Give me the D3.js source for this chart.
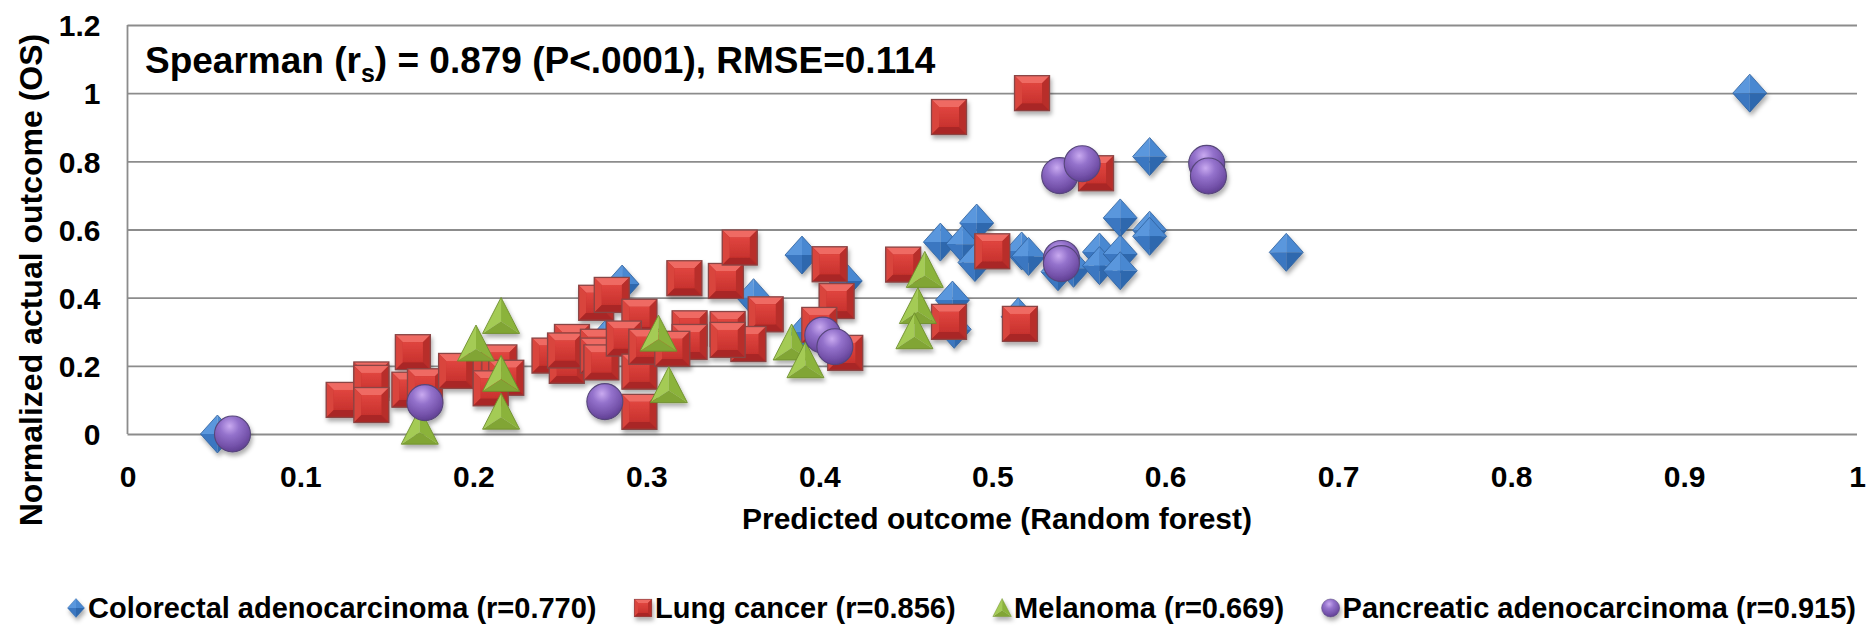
<!DOCTYPE html>
<html><head><meta charset="utf-8">
<script src="https://cdn.jsdelivr.net/npm/d3@7"></script>
<style>
body{margin:0;background:#fff}
svg text{font-family:"Liberation Sans",Arial,Helvetica,sans-serif;font-weight:bold;fill:#000}
</style>
</head><body>
<svg id="chart" width="1868" height="629"></svg>
<script>
// ---------------- data ----------------
const seriesNames = [
  "Colorectal adenocarcinoma (r=0.770)",
  "Lung cancer (r=0.856)",
  "Melanoma (r=0.669)",
  "Pancreatic adenocarcinoma (r=0.915)"
];
const seriesShapes = ["diamond","square","triangle","circle"];
const xTickValues = [0,0.1,0.2,0.3,0.4,0.5,0.6,0.7,0.8,0.9,1];
const xTickLabels = ["0","0.1","0.2","0.3","0.4","0.5","0.6","0.7","0.8","0.9","1"];
const yTickValues = [0,0.2,0.4,0.6,0.8,1.0,1.2];
const yTickLabels = ["0","0.2","0.4","0.6","0.8","1","1.2"];
const xTitle = "Predicted outcome (Random forest)";
const yTitle = "Normalized actual outcome (OS)";

// [predicted, actual]
const colorectal = [
  [0.052,0.0],[0.276,0.276],[0.286,0.44],[0.362,0.40],[0.39,0.525],[0.392,0.30],
  [0.415,0.449],[0.470,0.563],[0.477,0.393],[0.478,0.307],[0.483,0.557],[0.491,0.619],
  [0.49,0.503],[0.515,0.344],[0.517,0.537],[0.521,0.521],[0.538,0.476],[0.547,0.486],
  [0.562,0.534],[0.562,0.494],[0.574,0.634],[0.574,0.528],[0.574,0.479],[0.591,0.814],
  [0.591,0.598],[0.591,0.58],[0.670,0.533],[0.938,1.0]
];
const lung = [
  [0.125,0.10],[0.141,0.16],[0.141,0.15],[0.141,0.085],[0.165,0.24],[0.163,0.13],
  [0.172,0.14],[0.19,0.185],[0.210,0.188],[0.215,0.21],[0.219,0.165],[0.210,0.134],
  [0.244,0.23],[0.254,0.20],[0.257,0.27],[0.253,0.245],[0.271,0.385],[0.280,0.408],
  [0.272,0.256],[0.272,0.23],[0.274,0.21],[0.296,0.344],[0.287,0.28],[0.296,0.183],
  [0.296,0.065],[0.30,0.256],[0.322,0.457],[0.346,0.449],[0.325,0.31],[0.325,0.27],
  [0.315,0.25],[0.347,0.308],[0.354,0.547],[0.369,0.351],[0.359,0.264],[0.347,0.276],
  [0.406,0.498],[0.41,0.39],[0.40,0.32],[0.415,0.238],[0.4485,0.497],[0.475,0.329],
  [0.475,0.93],[0.523,1.0],[0.50,0.536],[0.56,0.765],[0.516,0.323]
];
const melanoma = [
  [0.169,0.02],[0.2015,0.264],[0.216,0.345],[0.216,0.175],[0.216,0.064],[0.307,0.293],
  [0.313,0.142],[0.384,0.267],[0.392,0.215],[0.461,0.48],[0.457,0.374],[0.455,0.30]
];
const pancreatic = [
  [0.0607,0.0],[0.172,0.092],[0.276,0.095],[0.402,0.29],[0.409,0.256],[0.539,0.758],
  [0.552,0.793],[0.54,0.515],[0.54,0.50],[0.624,0.794],[0.625,0.757]
];
const seriesData = [colorectal, lung, melanoma, pancreatic];

// ---------------- layout ----------------
const svg = d3.select("#chart");
const plot = {left:127.5, right:1857, top:25, bottom:434};
const x = d3.scaleLinear().domain([0,1]).range([plot.left, plot.right]);
const y = d3.scaleLinear().domain([0,1.2]).range([plot.bottom, plot.top]);
const gridColor = "#8c8c8c";

// ---------------- defs: markers ----------------
const defs = svg.append("defs");
const f = defs.append("filter").attr("id","shadow").attr("x","-50%").attr("y","-50%").attr("width","200%").attr("height","200%");
f.append("feDropShadow").attr("dx",1.5).attr("dy",3.5).attr("stdDeviation",2.2)
  .attr("flood-color","#000").attr("flood-opacity",0.32);

const rg = defs.append("radialGradient").attr("id","purpleGrad")
  .attr("cx","42%").attr("cy","28%").attr("r","75%");
rg.append("stop").attr("offset","0%").attr("stop-color","#c9aaf0");
rg.append("stop").attr("offset","35%").attr("stop-color","#9472cc");
rg.append("stop").attr("offset","75%").attr("stop-color","#7452aa");
rg.append("stop").attr("offset","100%").attr("stop-color","#5c3c8e");

const sqg = defs.append("linearGradient").attr("id","redFace").attr("x1",0).attr("y1",0).attr("x2",0).attr("y2",1);
sqg.append("stop").attr("offset","0%").attr("stop-color","#e0453f");
sqg.append("stop").attr("offset","100%").attr("stop-color","#c8322e");

function makeSymbol(id, s) {
  const g = defs.append("g").attr("id", id);
  if (id === "sym-diamond") {
    const w = 17*s, h = 19*s;
    g.append("polygon").attr("points",`0,${-h} ${-w},0 0,0`).attr("fill","#5a97dd");
    g.append("polygon").attr("points",`0,${-h} ${w},0 0,0`).attr("fill","#4a88d1");
    g.append("polygon").attr("points",`${-w},0 0,${h} 0,0`).attr("fill","#3a77c1");
    g.append("polygon").attr("points",`${w},0 0,${h} 0,0`).attr("fill","#2e68ae");
    g.append("polygon").attr("points",`0,${-h} ${w},0 0,${h} ${-w},0`)
      .attr("fill","none").attr("stroke","#2d5f9c").attr("stroke-width",0.8);
  } else if (id === "sym-square") {
    const a = 17.5*s, b = 10*s;
    g.append("rect").attr("x",-a).attr("y",-a).attr("width",2*a).attr("height",2*a).attr("fill","#c4312d");
    g.append("polygon").attr("points",`${-a},${-a} ${a},${-a} ${b},${-b} ${-b},${-b}`).attr("fill","#ef6b64");
    g.append("polygon").attr("points",`${-a},${-a} ${-b},${-b} ${-b},${b} ${-a},${a}`).attr("fill","#d9443e");
    g.append("polygon").attr("points",`${a},${-a} ${b},${-b} ${b},${b} ${a},${a}`).attr("fill","#b82e2a");
    g.append("polygon").attr("points",`${-a},${a} ${-b},${b} ${b},${b} ${a},${a}`).attr("fill","#a92825");
    g.append("rect").attr("x",-b).attr("y",-b).attr("width",2*b).attr("height",2*b).attr("fill","url(#redFace)");
    g.append("rect").attr("x",-a).attr("y",-a).attr("width",2*a).attr("height",2*a)
      .attr("fill","none").attr("stroke","#8a4545").attr("stroke-width",1.3);
  } else if (id === "sym-triangle") {
    const w = 18.5*s, top = -19*s, base = 17*s, cy = 5*s;
    g.append("polygon").attr("points",`0,${top} ${-w},${base} 0,${cy}`).attr("fill","#a4cb55");
    g.append("polygon").attr("points",`0,${top} ${w},${base} 0,${cy}`).attr("fill","#8bb33b");
    g.append("polygon").attr("points",`${-w},${base} ${w},${base} 0,${cy}`).attr("fill","#81a534");
    g.append("polygon").attr("points",`0,${top} ${w},${base} ${-w},${base}`)
      .attr("fill","none").attr("stroke","#6e8e2c").attr("stroke-width",0.9);
  } else {
    g.append("circle").attr("r",18*s).attr("fill","url(#purpleGrad)")
      .attr("stroke","#56467a").attr("stroke-width",1.1);
  }
}
seriesShapes.forEach(sh => makeSymbol("sym-"+sh, 1));
// small legend versions
function makeSmall(sh){
  defs.append("g").attr("id","leg-"+sh).append("use").attr("href","#sym-"+sh).attr("transform","scale(0.5)");
}
seriesShapes.forEach(makeSmall);

// ---------------- gridlines & axes ----------------
const grid = svg.append("g").attr("transform",`translate(${plot.left},0)`)
  .call(d3.axisLeft(y).tickValues(yTickValues).tickSize(-(plot.right-plot.left)).tickFormat(""));
grid.select(".domain").remove();
grid.selectAll("line").attr("stroke",gridColor).attr("stroke-width",1.8);

svg.append("line").attr("x1",plot.left).attr("x2",plot.left).attr("y1",plot.top).attr("y2",plot.bottom)
  .attr("stroke",gridColor).attr("stroke-width",1.8);

const xAxis = svg.append("g").attr("transform",`translate(0,${plot.bottom})`)
  .call(d3.axisBottom(x).tickValues(xTickValues).tickFormat((d,i)=>xTickLabels[i]).tickSize(0));
xAxis.select(".domain").remove();
xAxis.selectAll("text").attr("y",53).attr("dy",0).style("font-size","30px")
  .style("font-family",'"Liberation Sans",Arial,sans-serif').style("font-weight","bold").attr("fill","#000");

const yAxis = svg.append("g").attr("transform",`translate(${plot.left},0)`)
  .call(d3.axisLeft(y).tickValues(yTickValues).tickFormat((d,i)=>yTickLabels[i]).tickSize(0));
yAxis.select(".domain").remove();
yAxis.selectAll("text").attr("x",-27).attr("dy","0.36em").style("font-size","30px")
  .style("font-family",'"Liberation Sans",Arial,sans-serif').style("font-weight","bold").attr("fill","#000");

// axis titles
svg.append("text").attr("x",997).attr("y",529).attr("text-anchor","middle")
  .style("font-size","30px").text(xTitle);
svg.append("text").attr("transform","translate(42,280) rotate(-90)").attr("text-anchor","middle")
  .style("font-size","32px").text(yTitle);

// annotation
const ann = svg.append("text").attr("x",145).attr("y",73).style("font-size","37px");
ann.append("tspan").text("Spearman (r");
ann.append("tspan").attr("dy",9).style("font-size","25px").text("s");
ann.append("tspan").attr("dy",-9).text(") = 0.879 (P<.0001), RMSE=0.114");

// ---------------- points ----------------
const pts = svg.append("g").attr("filter","url(#shadow)");
seriesData.forEach((data, si) => {
  pts.append("g").selectAll("use").data(data).join("use")
    .attr("href","#sym-"+seriesShapes[si])
    .attr("x", d => x(d[0]))
    .attr("y", d => y(d[1]));
});

// ---------------- legend ----------------
const legendY = 608, legendLeft = 66, legendRight = 1856;
const leg = svg.append("g");
const items = seriesNames.map((name, i) => {
  const g = leg.append("g");
  g.append("use").attr("href","#leg-"+seriesShapes[i]).attr("filter","url(#shadow)");
  const t = g.append("text").attr("x",12).attr("y",10).style("font-size","29px").text(name);
  return {g, w: 12 + t.node().getComputedTextLength()};
});
const markerHalf = 10;
const totalW = d3.sum(items, d => d.w + markerHalf);
const gap = (legendRight - legendLeft - totalW) / (items.length - 1);
let cx = legendLeft + markerHalf;
items.forEach(it => {
  it.g.attr("transform", `translate(${cx},${legendY})`);
  cx += it.w + gap + markerHalf;
});
</script>
</body></html>
